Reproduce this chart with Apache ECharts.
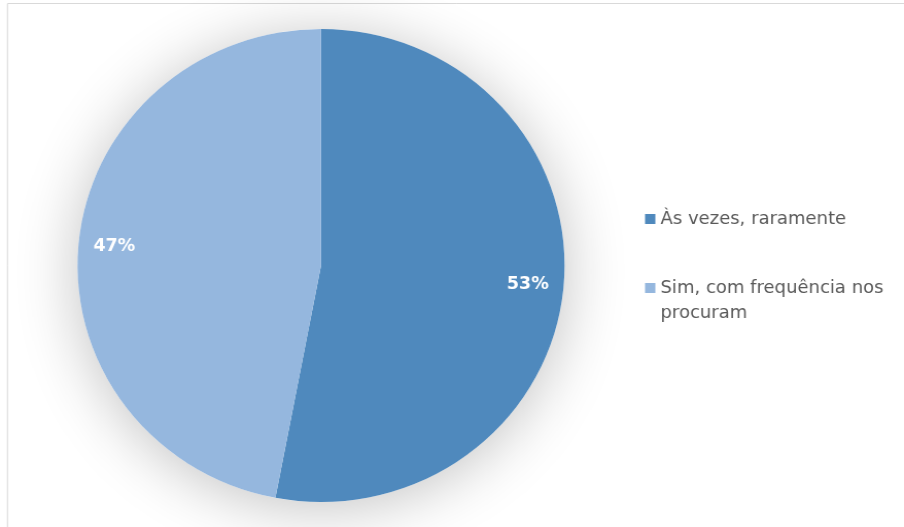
<!DOCTYPE html>
<html>
<head>
<meta charset="utf-8">
<script src="https://cdn.jsdelivr.net/npm/echarts@6/dist/echarts.min.js"></script>
<style>
  html, body { margin: 0; padding: 0; background: #ffffff; overflow: hidden; }
  /* the chart is drawn slightly narrower and widened to the page width */
  #chart { width: 878px; height: 527px; transform: scaleX(1.0296); transform-origin: 0 0; }
</style>
</head>
<body>
<div id="chart"></div>
<script>
// Answer categories and their shares (percent)
const categories = ['Às vezes, raramente', 'Sim, com frequência nos procuram'];
const shares = [53, 47];
const colors = ['#4f89bd', '#95b7de'];

const pieCenter = [311.8, 265.5];
const pieRadius = 236.5;

const pieData = categories.map((name, i) => ({
  name: name,
  value: shares[i],
  itemStyle: { color: colors[i] }
}));

const chart = echarts.init(document.getElementById('chart'), null, { renderer: 'canvas' });

chart.setOption({
  animation: false,
  backgroundColor: '#ffffff',
  graphic: [{
    type: 'rect',
    shape: { x: 7.3, y: 3.5, width: 1200, height: 1200 },
    style: { fill: 'none', stroke: '#d9d9d9', lineWidth: 1 },
    silent: true,
    z: -10
  }],
  legend: {
    orient: 'vertical',
    left: 621.5,
    top: 201.5,
    itemWidth: 10,
    itemHeight: 10,
    itemGap: 19,
    icon: 'rect',
    selectedMode: false,
    // a leading empty line keeps the marker level with the first text line
    formatter: (name) => (name === categories[1] ? '\n' + name : name),
    textStyle: {
      fontFamily: 'DejaVu Sans',
      fontSize: 17.5,
      color: '#595959',
      lineHeight: 25,
      width: 232,
      overflow: 'break'
    },
    data: categories
  },
  series: [
    {
      // soft drop shadow under the disc
      type: 'pie',
      name: 'shadow',
      silent: true,
      center: pieCenter,
      radius: [0, pieRadius],
      label: { show: false },
      labelLine: { show: false },
      itemStyle: {
        color: '#ffffff',
        shadowBlur: 60,
        shadowOffsetY: 6,
        shadowColor: 'rgba(0,0,0,0.24)'
      },
      data: [{ name: '', value: 1 }],
      z: 1
    },
    {
      type: 'pie',
      name: 'respostas',
      center: pieCenter,
      radius: [0, pieRadius],
      startAngle: 90,
      clockwise: true,
      label: { show: false },
      labelLine: { show: false },
      itemStyle: { borderWidth: 0 },
      data: pieData,
      z: 2
    },
    {
      // percentage labels placed in the outer band of the disc
      type: 'pie',
      name: 'rotulos',
      silent: true,
      center: pieCenter,
      radius: [pieRadius * 0.68, pieRadius],
      startAngle: 90,
      clockwise: true,
      itemStyle: { color: 'rgba(0,0,0,0)', borderWidth: 0 },
      label: {
        show: true,
        position: 'inside',
        formatter: (p) => p.value + '%',
        fontFamily: 'DejaVu Sans',
        fontWeight: 'bold',
        fontSize: 17,
        color: '#ffffff'
      },
      labelLine: { show: false },
      data: pieData.map(d => ({ name: d.name, value: d.value })),
      z: 3
    }
  ]
});
</script>
</body>
</html>
